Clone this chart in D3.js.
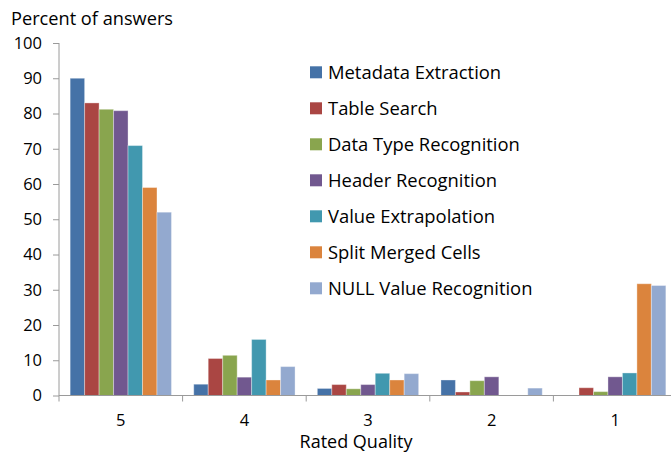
<!DOCTYPE html>
<html>
<head>
<meta charset="utf-8">
<script src="https://cdn.jsdelivr.net/npm/d3@7"></script>
<style>
  html, body { margin: 0; padding: 0; background: #fff; }
  svg { display: block; font-family: "Open Sans", "Noto Sans", sans-serif; }
</style>
</head>
<body>
<svg id="chart" width="671" height="453"></svg>
<script>
// Rated quality categories (x axis)
const categories = ["5", "4", "3", "2", "1"];

// Task series and their percentages per rated quality
const seriesNames = [
  "Metadata Extraction",
  "Table Search",
  "Data Type Recognition",
  "Header Recognition",
  "Value Extrapolation",
  "Split Merged Cells",
  "NULL Value Recognition"
];
const metadataExtraction   = [90.0, 3.2, 2.0, 4.4, 0.0];
const tableSearch          = [83.0, 10.5, 3.1, 1.0, 2.2];
const dataTypeRecognition  = [81.2, 11.4, 1.9, 4.2, 1.1];
const headerRecognition    = [80.8, 5.2, 3.1, 5.3, 5.3];
const valueExtrapolation   = [70.9, 15.9, 6.3, 0.0, 6.4];
const splitMergedCells     = [59.0, 4.4, 4.4, 0.0, 31.7];
const nullValueRecognition = [52.0, 8.2, 6.2, 2.1, 31.2];

const yTicks = [0, 10, 20, 30, 40, 50, 60, 70, 80, 90, 100];
const colors = ["#4572A7", "#AA4643", "#89A54E", "#71588F", "#4198AF", "#DB843D", "#93A9CF"];

const seriesValues = [
  metadataExtraction, tableSearch, dataTypeRecognition, headerRecognition,
  valueExtrapolation, splitMergedCells, nullValueRecognition
];

const svg = d3.select("#chart");
const plotLeft = 59, plotRight = 677, plotTop = 43, plotBottom = 395.5;
const axisColor = "#9a9a9a";

const y = d3.scaleLinear().domain([0, 100]).range([plotBottom, plotTop]);
const x0 = d3.scaleBand().domain(categories).range([plotLeft, plotRight]).padding(0);
const x1 = d3.scaleBand().domain(d3.range(seriesNames.length))
  .range([0, x0.bandwidth()]).paddingInner(0).paddingOuter(0.77);

// Bars, grouped by rated quality
const groups = svg.append("g").selectAll("g")
  .data(categories)
  .join("g")
  .attr("transform", d => `translate(${x0(d)},0)`);

groups.selectAll("rect")
  .data((c, ci) => seriesValues.map((vals, si) => ({ si, v: vals[ci] })).filter(d => d.v > 0))
  .join("rect")
  .attr("x", d => x1(d.si))
  .attr("width", x1.bandwidth())
  .attr("y", d => y(d.v))
  .attr("height", d => y(0) - y(d.v))
  .attr("fill", d => colors[d.si])
  .attr("stroke", "#ffffff")
  .attr("stroke-opacity", 0.35)
  .attr("stroke-width", 1);

// Y axis
const yAxis = d3.axisLeft(y).tickValues(yTicks).tickSize(6).tickPadding(11);
const gy = svg.append("g").attr("transform", `translate(${plotLeft},0)`).call(yAxis);
gy.select(".domain").attr("stroke", axisColor).attr("d", `M0,${plotTop}V${plotBottom + 6}`);
gy.selectAll(".tick line").attr("stroke", axisColor);
gy.selectAll(".tick text")
  .attr("fill", "#000")
  .style("font-size", "16.5px")
  .style("font-family", "'Open Sans', sans-serif");

// X axis: line at zero with ticks on category boundaries
const gx = svg.append("g");
gx.append("line")
  .attr("x1", plotLeft).attr("x2", 671)
  .attr("y1", y(0)).attr("y2", y(0))
  .attr("stroke", axisColor).attr("stroke-width", 1);
gx.selectAll("line.bound")
  .data(categories.slice(1))
  .join("line")
  .attr("class", "bound")
  .attr("x1", d => x0(d)).attr("x2", d => x0(d))
  .attr("y1", y(0)).attr("y2", y(0) + 6)
  .attr("stroke", axisColor);
gx.selectAll("text")
  .data(categories)
  .join("text")
  .attr("x", d => x0(d) + x0.bandwidth() / 2)
  .attr("y", 426)
  .attr("text-anchor", "middle")
  .style("font-size", "16.5px")
  .text(d => d);

// Axis titles
svg.append("text")
  .attr("x", 11).attr("y", 25)
  .style("font-size", "18.2px")
  .text("Percent of answers");
svg.append("text")
  .attr("x", 356).attr("y", 448)
  .attr("text-anchor", "middle")
  .style("font-size", "18px")
  .text("Rated Quality");

// Legend
const legend = svg.append("g").selectAll("g")
  .data(seriesNames)
  .join("g")
  .attr("transform", (d, i) => `translate(310,${72.3 + i * 36})`);
legend.append("rect")
  .attr("x", 0).attr("y", -6)
  .attr("width", 12).attr("height", 12)
  .attr("fill", (d, i) => colors[i]);
legend.append("text")
  .attr("x", 18).attr("y", 6.5)
  .style("font-size", "18.4px")
  .text(d => d);
</script>
</body>
</html>
